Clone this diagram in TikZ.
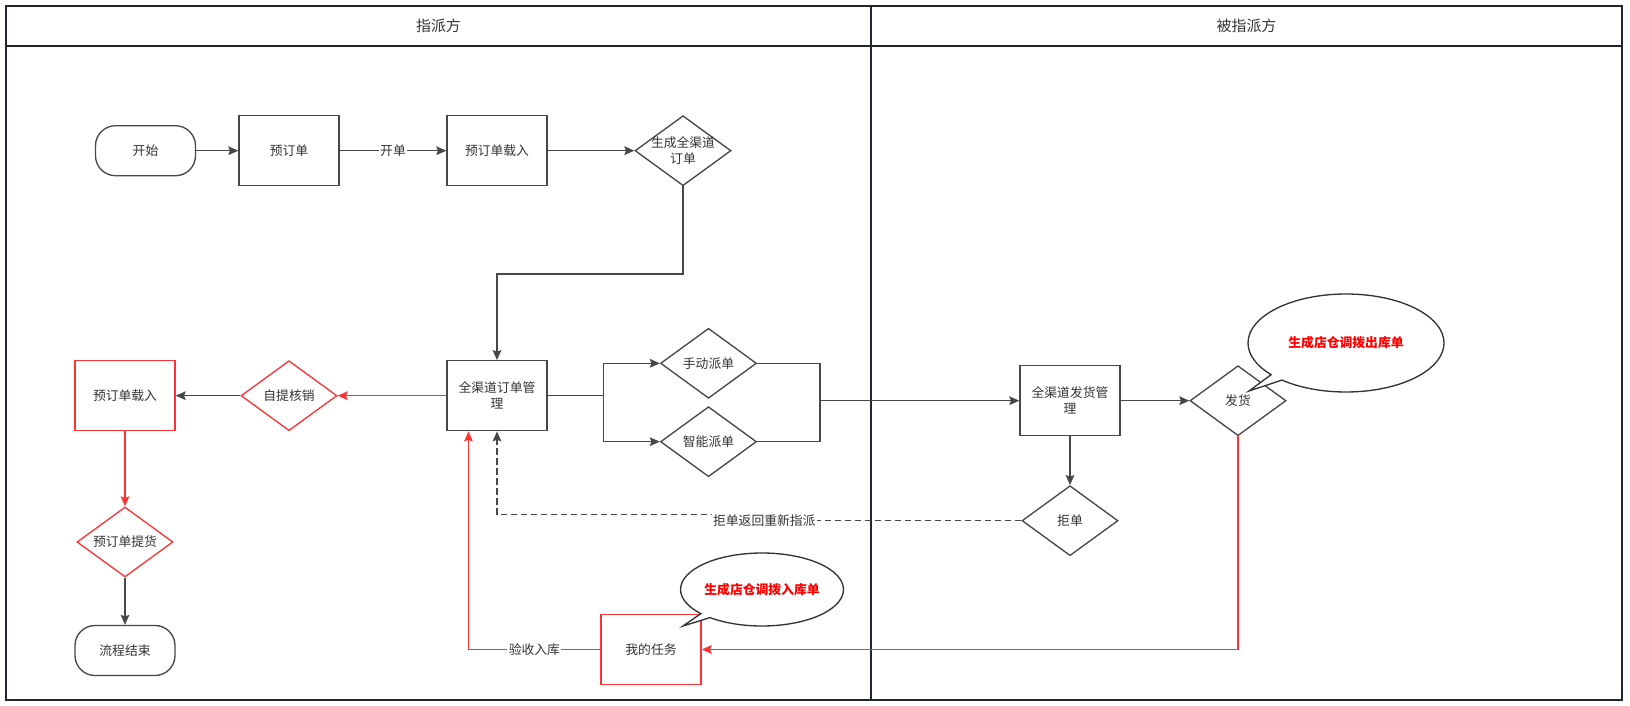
\documentclass[tikz,border=0pt]{standalone}
\usepackage{fontspec}
\setmainfont{Noto Sans CJK SC}
\usepackage{tikz}
\usetikzlibrary{arrows.meta, shapes.geometric, shapes.callouts}
\definecolor{lineGray}{HTML}{474747}
\definecolor{frameDark}{HTML}{1F272E}
\definecolor{flowRed}{HTML}{FF3333}
\definecolor{noteRed}{HTML}{FF0000}
\definecolor{textDark}{HTML}{333333}

\begin{document}
\begin{tikzpicture}[x=0.75pt, y=-0.75pt, line width=1pt, >={Stealth[length=7.5pt, width=6.5pt, inset=1.2pt]},
    every node/.style={font=\fontsize{9.6}{12}\selectfont, text=textDark},
    proc/.style={rectangle, draw=lineGray, fill=white, minimum width=75pt, minimum height=52.5pt, align=center, inner sep=2pt},
    redproc/.style={proc, draw=flowRed},
    term/.style={rectangle, rounded corners=15pt, draw=lineGray, fill=white, minimum width=75pt, minimum height=37.5pt},
    decision/.style={diamond, shape aspect=1.37, draw=lineGray, fill=white, minimum width=72pt, minimum height=52.5pt, inner sep=-4pt, align=center},
    reddecision/.style={decision, draw=flowRed},
    bubble/.style={ellipse callout, draw=textDark, fill=white, callout pointer arc=9, inner sep=0pt, font=\fontsize{9.6}{12}\selectfont\bfseries, text=noteRed},
    flow/.style={draw=lineGray, ->},
    redflow/.style={draw=flowRed, ->},
    backflow/.style={draw=lineGray, dash pattern=on 5pt off 2.5pt, ->},
    lbl/.style={fill=white, inner sep=1pt},
    lane/.style={draw=frameDark, line width=1.5pt},
    lanetitle/.style={font=\fontsize{11.2}{13}\selectfont}]
    \useasboundingbox (0,0) rectangle (1630,706);

    % Swimlanes
    \draw[lane] (6,6) rectangle (1622,700);
    \draw[lane] (6,46) -- (1622,46);
    \draw[lane] (871,6) -- (871,700);
    \node[lanetitle] (assigner) at (438.5,26) {指派方};
    \node[lanetitle] (assignee) at (1246.5,26) {被指派方};

    % Nodes
    \node[term] (start) at (145.5,150.7) {开始};
    \node[proc] (ydd) at (289,150.7) {预订单};
    \node[proc] (yddzr) at (497,150.7) {预订单载入};
    \node[decision] (scdd) at (683,150.7) {生成全渠道\\订单};
    \node[proc] (qqgl) at (497,395.7) {全渠道订单管\\理};
    \node[reddecision] (zthx) at (289,395.7) {自提核销};
    \node[redproc] (yddzr2) at (125,395.7) {预订单载入};
    \node[reddecision] (yddth) at (125,542) {预订单提货};
    \node[term] (finish) at (125,650.5) {流程结束};
    \node[decision] (sdpd) at (708.5,363.3) {手动派单};
    \node[decision] (znpd) at (708.5,441.7) {智能派单};
    \node[proc] (fhgl) at (1070,400.7) {全渠道发货管\\理};
    \node[decision] (fh) at (1238,400.7) {发货};
    \node[decision] (jd) at (1070,520.7) {拒单};
    \node[redproc] (rw) at (651,649.5) {我的任务};

    % Directed edges
    \draw[flow] (start) -- (ydd);
    \draw[flow] (ydd) -- node[lbl] {开单} (yddzr);
    \draw[flow] (yddzr) -- (scdd);
    \draw[flow] (scdd.south) -- ++(0,87.5) -| (qqgl.north);
    \draw[flow] (qqgl.east) -- ++(56,0) |- (sdpd.west);
    \draw[flow] (qqgl.east) -- ++(56,0) |- (znpd.west);
    \coordinate (merge) at (820,400.7);
    \draw[draw=lineGray] (sdpd.east) -| (merge);
    \draw[draw=lineGray] (znpd.east) -| (merge);
    \draw[flow] (merge) -- (fhgl.west);
    \draw[flow] (fhgl) -- (fh);
    \draw[flow] (fhgl) -- (jd);
    \draw[backflow] (jd.west) -- ++(-257,0) node[lbl] {拒单返回重新指派} -- ++(0,-6) -| (qqgl.south);
    \draw[redflow] (qqgl) -- (zthx);
    \draw[flow] (zthx) -- (yddzr2);
    \draw[redflow] (yddzr2) -- (yddth);
    \draw[flow] (yddth) -- (finish);
    \draw[redflow] (fh.south) |- (rw.east);
    \draw[redflow] (rw.west) -| node[pos=0.25, lbl] {验收入库} ([xshift=-21.4pt]qqgl.south);

    % Callouts
    \coordinate (outtip) at (1249,391);
    \node[bubble, minimum width=147pt, minimum height=73.5pt, callout absolute pointer={(outtip)}] (outnote) at (1346,343) {生成店仓调拨出库单};
    \coordinate (intip) at (683,626);
    \node[bubble, minimum width=120pt, minimum height=54.75pt, callout absolute pointer={(intip)}] (innote) at (762,589.5) {生成店仓调拨入库单};
\end{tikzpicture}
\end{document}
